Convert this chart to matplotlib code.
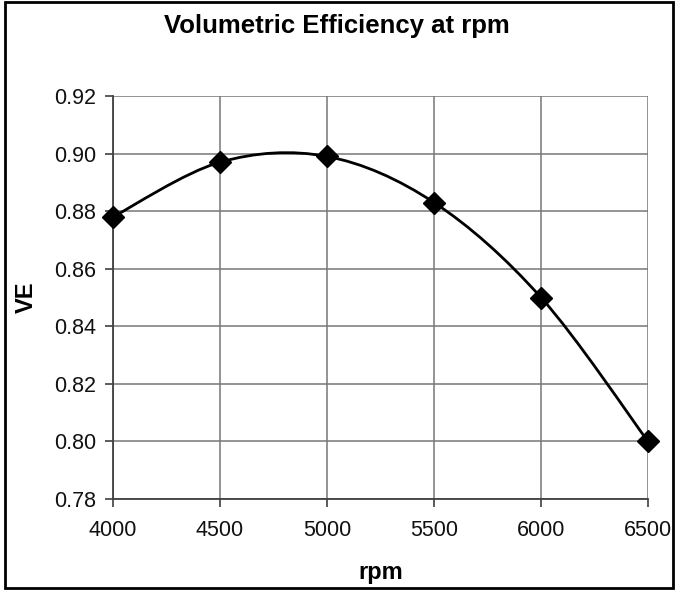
import numpy as np
import matplotlib
matplotlib.use("Agg")
import matplotlib.pyplot as plt
from matplotlib.path import Path
from matplotlib.patches import PathPatch, Rectangle

rpm = [4000, 4500, 5000, 5500, 6000, 6500]
ve = [0.878, 0.897, 0.899, 0.883, 0.850, 0.800]
xticks = [4000, 4500, 5000, 5500, 6000, 6500]
yticks = [0.78, 0.80, 0.82, 0.84, 0.86, 0.88, 0.90, 0.92]

plt.rcParams['font.family'] = ['Liberation Sans', 'DejaVu Sans']


def smooth_path(x, y):
    # excel style smoothed line: bezier segments, control points from neighbours
    pts = np.column_stack([x, y]).astype(float)
    n = len(pts)
    verts = [pts[0]]
    codes = [Path.MOVETO]
    for i in range(n - 1):
        p0 = pts[i - 1] if i > 0 else pts[i]
        p1 = pts[i]
        p2 = pts[i + 1]
        p3 = pts[i + 2] if i + 2 < n else pts[i + 1]
        c1 = p1 + (p2 - p0) / 6.0
        c2 = p2 - (p3 - p1) / 6.0
        verts += [c1, c2, p2]
        codes += [Path.CURVE4] * 3
    return Path(verts, codes)


fig = plt.figure(figsize=(6.75, 5.9), dpi=100)
ax = fig.add_axes([113 / 675, 1 - 499 / 590, 535 / 675, 403 / 590])

ax.add_patch(PathPatch(smooth_path(rpm, ve), facecolor='none', edgecolor='black',
                       lw=2.0, zorder=3, capstyle='round'))
ax.plot(rpm, ve, linestyle='none', marker='D', markersize=11, color='black', zorder=4,
        clip_on=False)

ax.set_xlim(4000, 6500)
ax.set_ylim(0.78, 0.92)
ax.set_xticks(xticks)
ax.set_yticks(yticks)
ax.set_yticklabels(["%.2f" % v for v in yticks])
ax.grid(True, color='#777777', lw=1.1)
ax.set_axisbelow(True)
for s in ['top', 'right']:
    ax.spines[s].set_visible(False)
for s in ['left', 'bottom']:
    ax.spines[s].set_color('#404040')
    ax.spines[s].set_linewidth(1.3)
ax.tick_params(axis='both', direction='out', length=6, width=1.2, color='#404040',
               labelsize=15.5, labelcolor='#111111')
ax.tick_params(axis='y', pad=6)
ax.tick_params(axis='x', pad=9)

ax.set_xlabel('rpm', fontsize=17, fontweight='bold', va='center')
ax.xaxis.set_label_coords(0.5, (499 - 572) / 403)
ax.set_ylabel('VE', fontsize=17, fontweight='bold', va='center')
ax.yaxis.set_label_coords((26 - 113) / 535, (499 - 297) / 403)
fig.text(337 / 675, 1 - 33 / 590, 'Volumetric Efficiency at rpm', fontsize=18.5,
         fontweight='bold', ha='center', va='baseline')

fig.patches.append(Rectangle((5 / 675, 2 / 590), 668 / 675, 586 / 590, fill=False,
                             edgecolor='black', lw=2, transform=fig.transFigure))

fig.savefig('out.png', dpi=100)
